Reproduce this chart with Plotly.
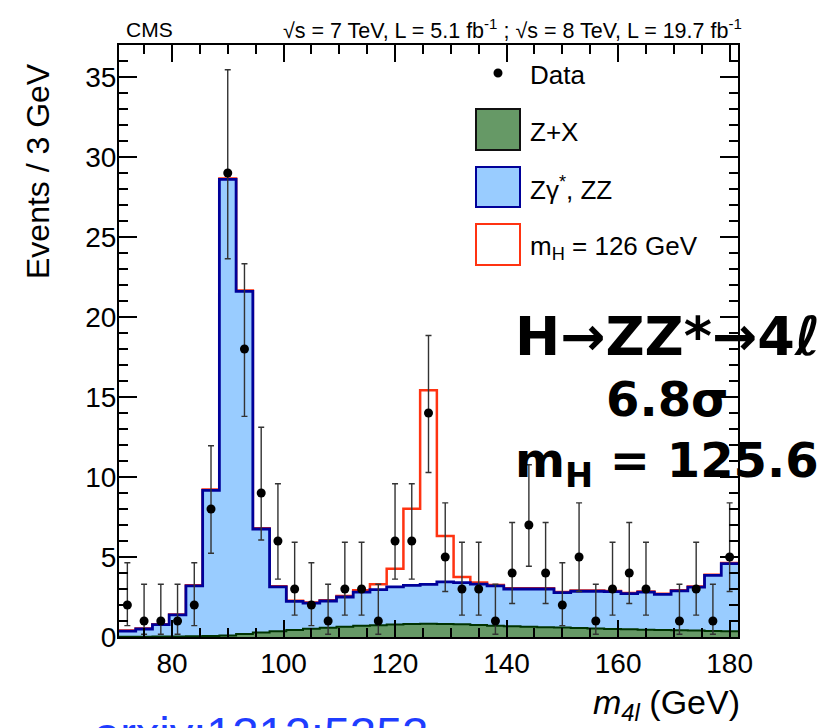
import numpy as np
import plotly.graph_objects as go

# ---------------- data ----------------
bin_centers = [72, 75, 78, 81, 84, 87, 90, 93, 96, 99, 102, 105, 108, 111, 114, 117, 120,
               123, 126, 129, 132, 135, 138, 141, 144, 147, 150, 153, 156, 159, 162, 165,
               168, 171, 174, 177, 180]
bin_width = 3.0

data_counts = [2, 1, 1, 1, 2, 8, 29, 18, 9, 6, 3, 2, 1, 3, 3, 1, 6,
               6, 14, 5, 3, 3, 1, 4, 7, 4, 2, 5, 1, 3, 4, 3,
               0, 1, 3, 1, 5]
data_err_low = [1.29, 0.83, 0.83, 0.83, 1.29, 2.77, 5.36, 4.21, 2.94, 2.38, 1.63, 1.29, 0.83, 1.63, 1.63, 0.83, 2.38,
                2.38, 3.72, 2.16, 1.63, 1.63, 0.83, 1.91, 2.58, 1.91, 1.29, 2.16, 0.83, 1.63, 1.91, 1.63,
                0.0, 0.83, 1.63, 0.83, 2.16]
data_err_high = [2.64, 2.30, 2.30, 2.30, 2.64, 3.95, 6.45, 5.33, 4.11, 3.58, 2.92, 2.64, 2.30, 2.92, 2.92, 2.30, 3.58,
                 3.58, 4.84, 3.38, 2.92, 2.92, 2.30, 3.16, 3.77, 3.16, 2.64, 3.38, 2.30, 2.92, 3.16, 2.92,
                 0.0, 2.30, 2.92, 2.30, 3.38]

zx_bkg = [0.02, 0.02, 0.03, 0.03, 0.04, 0.06, 0.10, 0.18, 0.28, 0.36, 0.44, 0.52, 0.58, 0.64, 0.70, 0.74, 0.78,
          0.82, 0.83, 0.82, 0.79, 0.75, 0.71, 0.67, 0.64, 0.61, 0.59, 0.56, 0.53, 0.50, 0.48, 0.46,
          0.44, 0.42, 0.40, 0.38, 0.36]
zz_bkg = [0.35, 0.48, 0.74, 1.35, 3.15, 9.11, 28.50, 21.42, 6.47, 2.77, 1.79, 1.60, 1.67, 1.86, 2.10, 2.22, 2.35,
          2.41, 2.46, 2.62, 2.61, 2.55, 2.49, 2.33, 2.36, 2.39, 2.18, 2.30, 2.33, 2.34, 2.23, 2.35,
          2.23, 2.46, 2.72, 3.47, 4.23]
higgs_sig = [0.03, 0.03, 0.03, 0.03, 0.04, 0.05, 0.06, 0.05, 0.04, 0.04, 0.04, 0.04, 0.05, 0.07, 0.12, 0.33, 1.14,
             4.79, 12.13, 2.87, 0.35, 0.10, 0.05, 0.04, 0.04, 0.04, 0.04, 0.04, 0.04, 0.04, 0.04, 0.04,
             0.04, 0.04, 0.04, 0.04, 0.04]

x_tick_vals = [80, 100, 120, 140, 160, 180]
y_tick_vals = [0, 5, 10, 15, 20, 25, 30, 35]

# ---------------- derived ----------------
centers = np.array(bin_centers, dtype=float)
edges = np.append(centers - bin_width / 2, centers[-1] + bin_width / 2)
zx = np.array(zx_bkg)
bkg = zx + np.array(zz_bkg)
tot = bkg + np.array(higgs_sig)


def step(v):
    return np.append(v, v[-1])


OFF = 8                       # default page body margin
PAGE_W, PAGE_H = 835, 728
W, H = PAGE_W - OFF, PAGE_H - OFF
L, R, T, B = 119, 738, 45, 637  # plot frame in page pixels


def px(x):
    return (x - L) / (R - L)


def py(y):
    return (B - y) / (B - T)


fig = go.Figure()
fig.add_trace(go.Scatter(x=edges, y=step(tot), mode="lines", line=dict(color="#ff3311", width=2.5, shape="hv"),
                         showlegend=False, hoverinfo="skip"))
fig.add_trace(go.Scatter(x=edges, y=step(bkg), mode="lines", fill="tozeroy", fillcolor="#99ccff",
                         line=dict(color="#000099", width=2.8, shape="hv"), showlegend=False, hoverinfo="skip"))
fig.add_trace(go.Scatter(x=edges, y=step(zx), mode="lines", fill="tozeroy", fillcolor="#669966",
                         line=dict(color="#003300", width=2, shape="hv"), showlegend=False, hoverinfo="skip"))

mask = np.array(data_counts) > 0
fig.add_trace(go.Scatter(
    x=centers[mask], y=np.array(data_counts)[mask], mode="markers",
    marker=dict(color="black", size=9),
    error_y=dict(type="data", symmetric=False, array=np.array(data_err_high)[mask],
                 arrayminus=np.array(data_err_low)[mask], color="#333333", thickness=1.4, width=3),
    showlegend=False, hoverinfo="skip"))

tickfont = dict(family="Liberation Sans, Arial, sans-serif", size=28, color="black")

fig.update_xaxes(range=[edges[0], edges[-1]], tickvals=x_tick_vals, ticks="inside", ticklen=17, tickwidth=1.5,
                 tickcolor="black", showline=True, linewidth=2, linecolor="black", mirror="ticks",
                 showgrid=False, zeroline=False, tickfont=tickfont,
                 minor=dict(dtick=5, tick0=80, ticks="inside", ticklen=9, tickwidth=1.5, tickcolor="black",
                            showgrid=False))
fig.update_yaxes(range=[0, 37], tickvals=y_tick_vals, ticks="inside", ticklen=18, tickwidth=1.5,
                 tickcolor="black", showline=True, linewidth=2, linecolor="black", mirror="ticks",
                 showgrid=False, zeroline=False, tickfont=tickfont, ticklabelstandoff=-5,
                 minor=dict(dtick=1, tick0=0, ticks="inside", ticklen=9, tickwidth=1.5, tickcolor="black",
                            showgrid=False))

ann = []
font_h = "Liberation Sans, Arial, sans-serif"
# header
ann.append(dict(text="CMS", x=px(124), y=py(30), xanchor="left", yanchor="middle",
                font=dict(family=font_h, size=21, color="black")))
ann.append(dict(text="√s = 7 TeV, L = 5.1 fb<sup>-1</sup> ; √s = 8 TeV, L = 19.7 fb<sup>-1</sup>",
                x=px(744), y=py(29), xanchor="right", yanchor="middle",
                font=dict(family=font_h, size=21.5, color="black")))
# axis titles
ann.append(dict(text="Events / 3 GeV", x=px(38), y=py(171), textangle=-90, xanchor="center", yanchor="middle",
                font=dict(family=font_h, size=32, color="black")))
ann.append(dict(text="<i>m</i><sub><i>4l</i></sub> (GeV)", x=px(742), y=py(704), xanchor="right",
                yanchor="middle", font=dict(family=font_h, size=34, color="black")))
# legend texts
lf = dict(family=font_h, size=26, color="black")
ann.append(dict(text="Data", x=px(528), y=py(75), xanchor="left", yanchor="middle", font=lf))
ann.append(dict(text="Z+X", x=px(528), y=py(132), xanchor="left", yanchor="middle", font=lf))
ann.append(dict(text="Zγ<sup>*</sup>, ZZ", x=px(528), y=py(189), xanchor="left", yanchor="middle", font=lf))
ann.append(dict(text="m<sub>H</sub> = 126 GeV", x=px(528), y=py(247), xanchor="left", yanchor="middle", font=lf))
# big statement
bf = "DejaVu Sans, Verdana, sans-serif"
ann.append(dict(text="<b>H→ZZ*→4<i>ℓ</i></b>", x=px(667), y=py(336), xanchor="center", yanchor="middle",
                font=dict(family=bf, size=54, color="black")))
ann.append(dict(text="<b>6.8σ</b>", x=px(667), y=py(399), xanchor="center", yanchor="middle",
                font=dict(family=bf, size=48, color="black")))
ann.append(dict(text="<b>m<sub>H</sub> = 125.6</b>", x=px(667), y=py(463), xanchor="center", yanchor="middle",
                font=dict(family=bf, size=48, color="black")))
# arxiv reference (cut by the bottom edge, as in the reference)
ann.append(dict(text="arxiv:1312:5353", x=px(92), y=py(733), xanchor="left", yanchor="middle",
                font=dict(family=font_h, size=47, color="#1f3dff")))
for a in ann:
    a.update(xref="paper", yref="paper", showarrow=False)

shapes = [
    dict(type="circle", x0=px(493.5), x1=px(502.5), y0=py(77.5), y1=py(68.5), fillcolor="black",
         line=dict(color="black", width=0)),
    dict(type="rect", x0=px(476), x1=px(520), y0=py(150), y1=py(109), fillcolor="#669966",
         line=dict(color="#111111", width=2)),
    dict(type="rect", x0=px(476), x1=px(520), y0=py(207), y1=py(167), fillcolor="#99ccff",
         line=dict(color="#000099", width=2)),
    dict(type="rect", x0=px(476), x1=px(520), y0=py(265), y1=py(224), fillcolor="white",
         line=dict(color="#ff3311", width=2)),
]
for s in shapes:
    s.update(xref="paper", yref="paper")

fig.update_layout(width=W, height=H, autosize=False,
                  margin=dict(l=L - OFF, r=PAGE_W - R, t=T - OFF, b=PAGE_H - B, pad=0),
                  plot_bgcolor="white", paper_bgcolor="white",
                  annotations=ann, shapes=shapes, showlegend=False)

fig.write_html("out.html")
